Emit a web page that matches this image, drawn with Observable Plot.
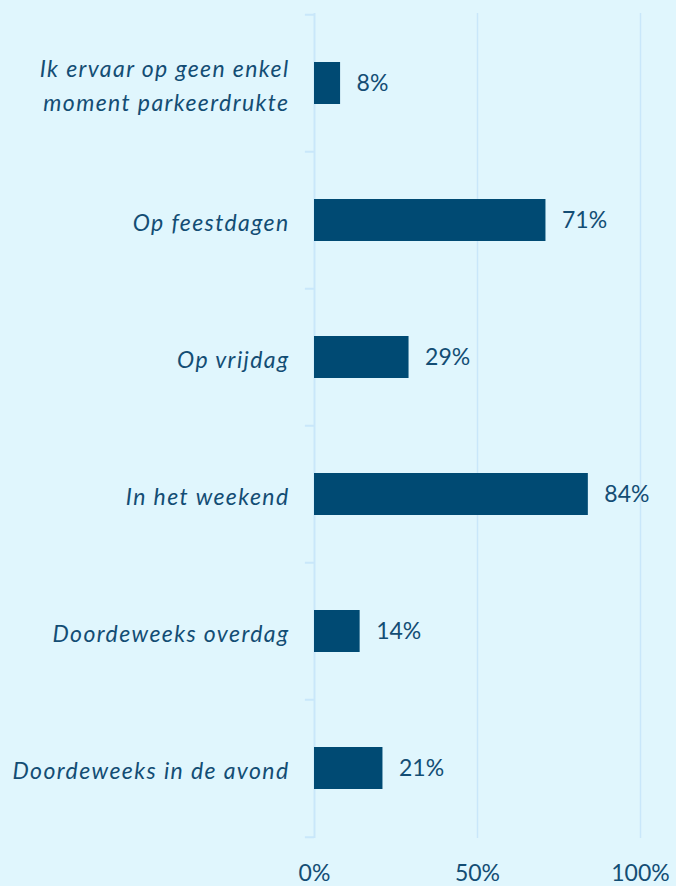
<!DOCTYPE html>
<html>
<head>
<meta charset="utf-8">
<script src="https://cdn.jsdelivr.net/npm/d3@7"></script>
<script src="https://cdn.jsdelivr.net/npm/@observablehq/plot@0.6"></script>
<style>
  html, body { margin: 0; padding: 0; background: #e0f6fd; }
  #chart svg { display: block; }
  #chart g[aria-label="y-axis tick label"] text { letter-spacing: 1.4px; }
</style>
</head>
<body>
<div id="chart"></div>
<script>
const categories = [
  "Ik ervaar op geen enkel\nmoment parkeerdrukte",
  "Op feestdagen",
  "Op vrijdag",
  "In het weekend",
  "Doordeweeks overdag",
  "Doordeweeks in de avond"
];
const values = [8, 71, 29, 84, 14, 21];
const xTicks = [0, 50, 100];

const data = categories.map((c, i) => ({category: c, value: values[i]}));

const navy = "#004a73";
const textColor = "#134d74";
const gridColor = "#c9e7fa";
const step = (886 - 13 - 48) / categories.length;

const chart = Plot.plot({
  width: 676,
  height: 886,
  marginLeft: 314,
  marginRight: 36,
  marginTop: 13,
  marginBottom: 48,
  style: {background: "#e0f6fd", fontFamily: "Lato, 'Open Sans', sans-serif", color: textColor},
  x: {domain: [0, 100]},
  y: {domain: categories, paddingInner: 0.69, paddingOuter: 0.345},
  marks: [
    Plot.ruleX(xTicks.filter(d => d > 0), {stroke: gridColor, strokeWidth: 1.5}),
    Plot.ruleX([0], {stroke: gridColor, strokeWidth: 2}),
    Plot.ruleY(categories, {y: d => d, x1: -2.8, x2: 0, dy: -step / 2, stroke: gridColor, strokeWidth: 2}),
    Plot.ruleY(categories.slice(-1), {y: d => d, x1: -2.8, x2: 0, dy: step / 2, stroke: gridColor, strokeWidth: 2}),
    Plot.barX(data, {y: "category", x: "value", fill: navy}),
    Plot.text(data, {y: "category", x: "value", text: d => d.value + "%", textAnchor: "start", dx: 16, fontSize: 23, fill: textColor}),
    Plot.axisY({tickSize: 0, tickPadding: 25, fontSize: 23, fontStyle: "italic", fill: textColor, lineHeight: 1.48, label: null}),
    Plot.axisX({ticks: xTicks, tickFormat: d => d + "%", tickSize: 0, tickPadding: 26, fontSize: 23, fill: textColor, label: null})
  ]
});
document.getElementById("chart").append(chart);
</script>
</body>
</html>
